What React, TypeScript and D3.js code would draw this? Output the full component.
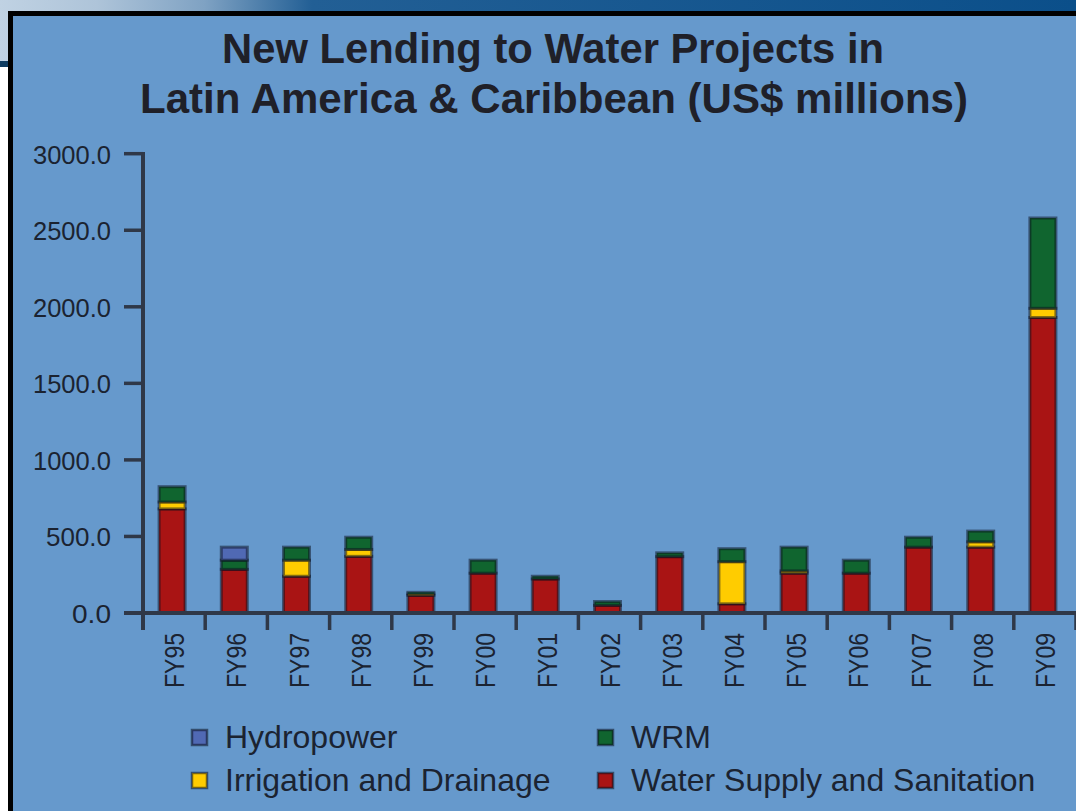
import React from "react";
import * as d3 from "d3";

const years = ["FY95","FY96","FY97","FY98","FY99","FY00","FY01","FY02","FY03","FY04","FY05","FY06","FY07","FY08","FY09"];
const waterSupply = [680, 285, 240, 370, 115, 260, 222, 50, 368, 60, 260, 260, 430, 430, 1930];
const irrigation = [45, 0, 105, 45, 10, 0, 0, 0, 0, 275, 15, 0, 0, 35, 60];
const wrm = [100, 60, 85, 80, 10, 85, 18, 25, 25, 85, 155, 85, 65, 70, 590];
const hydropower = [0, 85, 0, 0, 0, 0, 0, 0, 0, 0, 0, 0, 0, 0, 0];
const yTicks = [0, 500, 1000, 1500, 2000, 2500, 3000];

const seriesKeys = ["wss", "irr", "wrm", "hydro"];
const seriesColors: Record<string, string> = {
  wss: "#a91414",
  irr: "#ffcc00",
  wrm: "#10652f",
  hydro: "#5069b4",
};

const legendItems = [
  { label: "Hydropower", key: "hydro", col: 0, row: 0 },
  { label: "Irrigation and Drainage", key: "irr", col: 0, row: 1 },
  { label: "WRM", key: "wrm", col: 1, row: 0 },
  { label: "Water Supply and Sanitation", key: "wss", col: 1, row: 1 },
];

export default function App() {
  const W = 1076, H = 811;
  const y = d3.scaleLinear().domain([0, 3000]).range([613, 153.7]);
  const x = d3.scaleBand<string>().domain(years).range([143, 1076]).paddingInner(0).paddingOuter(0);
  const bw = x.bandwidth();
  const rows = years.map((yr, i) => ({
    year: yr,
    wss: waterSupply[i],
    irr: irrigation[i],
    wrm: wrm[i],
    hydro: hydropower[i],
  }));
  const stacked = d3.stack<any>().keys(seriesKeys)(rows);
  const barW = 26;
  const fmt = d3.format(".1f");
  const font = "'Liberation Sans', Arial, Helvetica, sans-serif";
  const textCol = "#1b2331";
  const axisCol = "#2f3848";

  return (
    <svg width={W} height={H} style={{ position: "absolute", left: 0, top: 0 }} fontFamily={font}>
      <defs>
        <linearGradient id="topgrad" x1="0" x2="1" y1="0" y2="0">
          <stop offset="0" stopColor="#c0d2e3" />
          <stop offset="0.09" stopColor="#aec4d9" />
          <stop offset="0.19" stopColor="#7fa2c3" />
          <stop offset="0.29" stopColor="#225f95" />
          <stop offset="1" stopColor="#0b4f8a" />
        </linearGradient>
      </defs>
      <rect x={0} y={0} width={W} height={H} fill="#ffffff" />
      <rect x={0} y={0} width={W} height={61} fill="url(#topgrad)" />
      <rect x={0} y={61} width={W} height={6} fill="#0d3b60" />
      {/* chart panel */}
      <rect x={10.5} y={13.5} width={W + 20} height={H + 20} fill="#6699cc" stroke="#000" strokeWidth={5} />

      {/* title */}
      <text x={553} y={63} textAnchor="middle" fontSize={42} fontWeight="bold" fill="#1f2028" textLength={662} lengthAdjust="spacingAndGlyphs">
        New Lending to Water Projects in
      </text>
      <text x={554} y={113} textAnchor="middle" fontSize={42} fontWeight="bold" fill="#1f2028" textLength={828} lengthAdjust="spacingAndGlyphs">
        Latin America &amp; Caribbean (US$ millions)
      </text>

      {/* y axis */}
      <line x1={143} x2={143} y1={152} y2={630} stroke={axisCol} strokeWidth={4} />
      {yTicks.map((t) => (
        <g key={t}>
          <line x1={124} x2={143} y1={y(t)} y2={y(t)} stroke={axisCol} strokeWidth={3.5} />
          <text x={111} y={y(t) + 10} textAnchor="end" fontSize={25.5} fill={textCol} textLength={fmt(t).length > 5 ? 78 : fmt(t).length > 3 ? 65 : 39} lengthAdjust="spacingAndGlyphs">
            {fmt(t)}
          </text>
        </g>
      ))}

      {/* bars */}
      {stacked.map((s) => (
        <g key={s.key}>
          {s.map((d: any, i: number) => {
            const v = d[1] - d[0];
            if (v <= 0) return null;
            const cx = (x(years[i]) as number) + bw / 2 - 2;
            return (
              <rect
                key={i}
                x={cx - barW / 2}
                y={y(d[1])}
                width={barW}
                height={y(d[0]) - y(d[1])}
                fill={seriesColors[s.key]}
                stroke="rgba(10,15,30,0.5)"
                strokeWidth={3}
              />
            );
          })}
        </g>
      ))}

      {/* x axis */}
      <line x1={124} x2={W} y1={613} y2={613} stroke={axisCol} strokeWidth={4} />
      {years.map((yr) => {
        const bx = (x(yr) as number) + bw;
        const cx = (x(yr) as number) + bw / 2;
        return (
          <g key={yr}>
            <line x1={bx} x2={bx} y1={615} y2={630} stroke={axisCol} strokeWidth={3.5} />
            <text
              transform={`translate(${cx + 10},${633}) rotate(-90)`}
              textAnchor="end"
              fontSize={27}
              fill={textCol}
              textLength={55}
              lengthAdjust="spacingAndGlyphs"
            >
              {yr}
            </text>
          </g>
        );
      })}

      {/* legend */}
      {legendItems.map((it) => {
        const sx = it.col === 0 ? 192 : 598;
        const sy = it.row === 0 ? 730 : 773;
        return (
          <g key={it.key}>
            <rect x={sx} y={sy} width={15} height={15} fill={seriesColors[it.key]} stroke="rgba(10,15,30,0.55)" strokeWidth={2.5} />
            <text x={sx + 33} y={sy + 18} fontSize={32} fill={textCol}>
              {it.label}
            </text>
          </g>
        );
      })}
    </svg>
  );
}
